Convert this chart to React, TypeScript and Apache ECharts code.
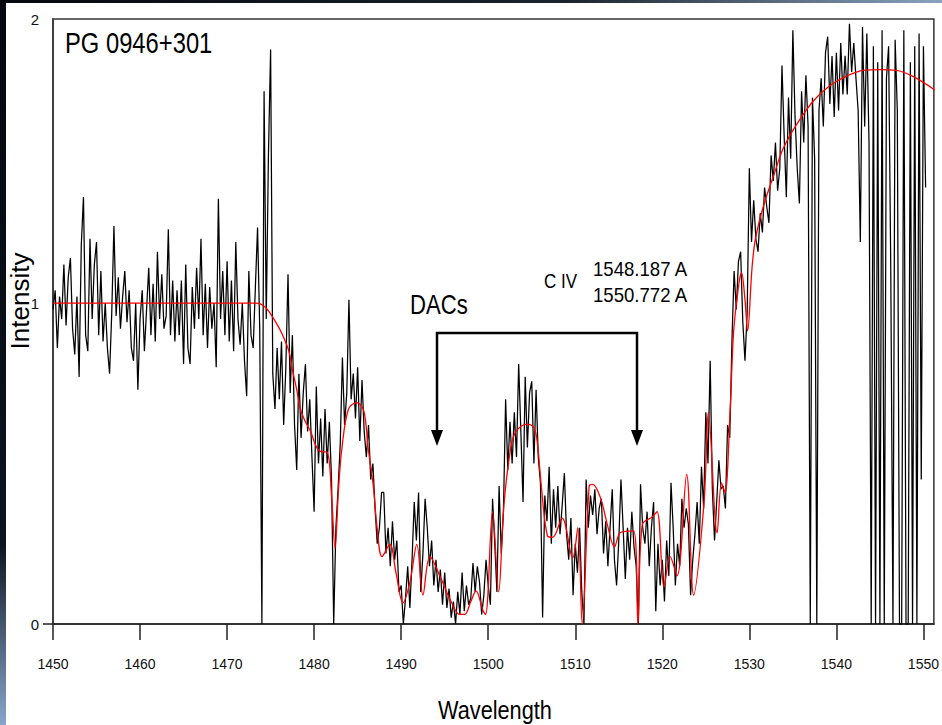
import React, { useEffect, useRef } from "react";
import * as echarts from "echarts";

// ---- data ----
const WL_START = 1450;
const WL_STEP = 0.25;

const flux1450 = [
  0.98, 1.04, 0.86, 1.02, 0.95, 1.12, 0.93, 1.08, 1.14, 0.92, 0.84, 1.02,
  0.77, 1.18, 1.33, 0.9, 0.85, 1.2, 0.95, 1.12, 1.19, 0.9, 1.1, 0.88,
  1.0, 0.86, 0.78, 0.97, 1.24, 0.96, 1.08, 0.92, 1.02, 1.1, 0.94, 1.04,
  0.86, 0.82, 1.0, 0.73,
];
const flux1460 = [
  0.95, 1.04, 0.85, 0.98, 1.11, 0.9, 1.06, 0.88, 1.16, 0.95, 1.09, 0.92,
  0.96, 1.23, 0.9, 1.07, 0.88, 1.04, 0.9, 1.07, 0.81, 1.12, 0.86, 0.81,
  1.05, 0.92, 1.11, 0.95, 1.2, 0.9, 1.06, 0.86, 1.05, 0.92, 1.0, 0.8,
  1.325, 0.95, 1.1, 0.9,
];
const flux1470 = [
  1.13, 0.88, 1.07, 0.85, 1.19, 0.95, 0.87, 1.0, 0.82, 0.71, 1.1, 0.9,
  0.86, 1.05, 1.235, 0.92, 0.0, 1.66, 0.95, 1.46, 1.79, 0.78, 0.67, 0.86,
  0.7, 0.88, 0.62, 0.8, 1.09, 0.72, 0.9, 0.62, 0.48, 0.78, 0.58, 0.72,
  0.81, 0.6, 0.7, 0.52,
];
const flux1480 = [
  0.35, 0.74, 0.5, 0.64, 0.46, 0.67, 0.5, 0.63, 0.45, 0.0, 0.3, 0.42,
  0.56, 0.83, 0.62, 0.72, 1.01, 0.7, 0.78, 0.64, 0.8, 0.57, 0.76, 0.6,
  0.52, 0.62, 0.45, 0.5, 0.36, 0.25, 0.3, 0.41, 0.41, 0.22, 0.3, 0.18,
  0.32, 0.2, 0.26, 0.1,
];
const flux1490 = [
  0.12, 0.0, 0.08, 0.18, 0.05, 0.2, 0.38, 0.26, 0.41, 0.1, 0.22, 0.39,
  0.3, 0.18, 0.26, 0.12, 0.2, 0.1, 0.17, 0.06, 0.16, 0.05, 0.11, 0.02,
  0.07, 0.0, 0.1, 0.03, 0.16, 0.04, 0.12, 0.06, 0.08, 0.19, 0.1, 0.18,
  0.13, 0.03, 0.09, 0.2,
];
const flux1500 = [
  0.12, 0.06, 0.39, 0.25, 0.1, 0.43, 0.22, 0.35, 0.7, 0.48, 0.63, 0.5,
  0.66, 0.52, 0.81, 0.6, 0.38, 0.77, 0.55, 0.72, 0.756, 0.5, 0.73, 0.52,
  0.44, 0.02, 0.4, 0.32, 0.49, 0.25, 0.42, 0.3, 0.43, 0.28, 0.37, 0.47,
  0.28, 0.2, 0.33, 0.09,
];
const flux1510 = [
  0.25, 0.16, 0.3, 0.1, 0.0, 0.45, 0.3, 0.4, 0.34, 0.42, 0.28, 0.36,
  0.39, 0.22, 0.32, 0.18, 0.3, 0.42, 0.2, 0.12, 0.26, 0.45, 0.3, 0.14,
  0.3, 0.2, 0.35, 0.24, 0.18, 0.0, 0.435, 0.3, 0.25, 0.35, 0.18, 0.3,
  0.38, 0.04, 0.25, 0.12,
];
const flux1520 = [
  0.2, 0.07, 0.26, 0.15, 0.44, 0.3, 0.12, 0.25, 0.18, 0.39, 0.3, 0.36,
  0.31, 0.09, 0.2, 0.28, 0.38, 0.25, 0.49, 0.36, 0.66, 0.5, 0.82, 0.42,
  0.26, 0.38, 0.51, 0.42, 0.43, 0.36, 0.62, 0.58, 0.88, 1.1, 0.98, 1.13,
  1.16, 0.94, 0.82, 0.97,
];
const flux1530 = [
  1.42, 1.19, 1.32, 1.2, 1.16, 1.28, 1.22, 1.36, 1.3, 1.25, 1.46, 1.38,
  1.5, 1.35, 1.42, 1.74, 1.52, 1.33, 1.64, 1.45, 1.85, 1.58, 1.42, 1.31,
  1.66, 1.5, 1.71, 1.55, 0.0, 1.64, 1.45, 0.0, 1.6, 1.7, 1.55, 1.78,
  1.83, 1.62, 1.77, 1.58,
];
const flux1540 = [
  1.78, 1.6, 1.81, 1.65, 1.77, 1.65, 1.87, 1.72, 1.81, 1.7, 1.6, 1.19,
  1.86, 1.55, 1.84, 1.5, 0.0, 1.8, 0.0, 1.75, 0.0, 1.85, 0.0, 1.7,
  1.8, 1.1, 0.0, 1.82, 1.6, 0.0, 0.0, 1.85, 0.0, 0.0, 1.75, 0.0,
  1.8, 0.0, 1.84, 0.45, 1.8, 1.36,
];

// smooth fitted profile (red)
const fitWave = [
  1450, 1473.3, 1474.4, 1475.6, 1476.3, 1477.1, 1477.5, 1478.0, 1478.4, 1479.0,
  1479.6, 1480.2, 1480.7, 1481.5, 1482.0, 1482.4, 1482.8, 1483.2, 1483.95, 1484.9,
  1485.7, 1486.2, 1486.8, 1487.2, 1487.8, 1488.7, 1489.4, 1490.2, 1491.0, 1491.8,
  1492.5, 1493.3, 1494.6, 1495.8, 1496.7, 1497.3, 1498.0, 1498.6, 1499.4, 1499.7,
  1500.5, 1501.2, 1501.8, 1502.6, 1503.2, 1504.5, 1505.3, 1505.7, 1506.1, 1506.8,
  1507.4, 1508.5, 1509.7, 1510.3, 1510.8, 1511.6, 1512.0, 1512.9, 1513.7, 1514.5,
  1515.2, 1516.7, 1517.2, 1517.7, 1518.8, 1519.4, 1520.2, 1520.9, 1521.7, 1522.8,
  1523.6, 1524.8, 1525.3, 1526.3, 1526.8, 1527.2, 1527.8, 1528.2, 1528.8, 1529.1,
  1529.5, 1529.8, 1530.3, 1530.7, 1531.6, 1532.8, 1533.9, 1535.4, 1537.3, 1539.2,
  1541.1, 1543.1, 1545.0, 1546.9, 1548.8, 1551.3,
];
const fitFlux = [
  1.0, 1.0, 0.987, 0.94, 0.905, 0.85, 0.793, 0.73, 0.672, 0.63,
  0.6, 0.555, 0.538, 0.535, 0.4, 0.236, 0.42, 0.55, 0.67, 0.69,
  0.665, 0.55, 0.43, 0.31, 0.21, 0.248, 0.16, 0.066, 0.13, 0.248,
  0.09, 0.21, 0.14, 0.066, 0.03, 0.03, 0.07, 0.103, 0.042, 0.03,
  0.35, 0.1, 0.37, 0.55, 0.6, 0.623, 0.61, 0.55, 0.43, 0.275,
  0.27, 0.33, 0.206, 0.3, 0.0, 0.43, 0.435, 0.393, 0.308, 0.24,
  0.285, 0.29, 0.0, 0.31, 0.333, 0.35, 0.115, 0.21, 0.15, 0.466,
  0.09, 0.381, 0.66, 0.284, 0.44, 0.41, 0.67, 0.913, 1.06, 1.095,
  1.01, 0.913, 1.107, 1.2, 1.3, 1.398, 1.482, 1.555, 1.628, 1.676,
  1.706, 1.725, 1.727, 1.725, 1.706, 1.664,
];

const xTicks = [1450, 1460, 1470, 1480, 1490, 1500, 1510, 1520, 1530, 1540, 1550];
const Y_TOP = 1.885;
const yTickValues = [0, 1, Y_TOP];
const yTickLabels = ["0", "1", "2"];

const FONT = "'Liberation Sans', Arial, sans-serif";

export default function App() {
  const ref = useRef<HTMLDivElement>(null);
  useEffect(() => {
    if (!ref.current) return;
    const chart = echarts.init(ref.current, undefined, { renderer: "svg" });
    const flux = [
      ...flux1450, ...flux1460, ...flux1470, ...flux1480, ...flux1490,
      ...flux1500, ...flux1510, ...flux1520, ...flux1530, ...flux1540,
    ];
    const spectrum = flux.map((v, i) => [WL_START + i * WL_STEP, v]);
    const fit = fitWave.map((w, i) => [w, fitFlux[i]]);

    const narrowText = (text: string, x: number, y: number, size: number, sx: number) => ({
      type: "text",
      x,
      y,
      scaleX: sx,
      style: { text, fontSize: size, fontFamily: FONT, fill: "#000", verticalAlign: "middle" },
    });

    chart.setOption({
      animation: false,
      backgroundColor: "#ffffff",
      grid: {
        left: 53,
        top: 19,
        width: 885,
        height: 605,
        show: true,
        borderColor: "#333",
        borderWidth: 1.5,
        backgroundColor: "transparent",
      },
      xAxis: {
        type: "value",
        min: 1450,
        max: 1551.2,
        interval: 10,
        axisLine: { show: true, onZero: false, lineStyle: { color: "#222", width: 1.5 } },
        axisTick: { show: true, inside: false, length: 16, customValues: xTicks, lineStyle: { color: "#222", width: 1.5 } },
        axisLabel: {
          margin: 33,
          fontSize: 14,
          fontFamily: FONT,
          color: "#111",
          customValues: xTicks,
          formatter: (v: number) => String(v),
        },
        splitLine: { show: false },
      },
      yAxis: {
        type: "value",
        min: 0,
        max: Y_TOP,
        interval: 1,
        axisLine: { show: true, lineStyle: { color: "#333", width: 1.5 } },
        axisTick: { show: true, inside: false, length: 10, customValues: [0], lineStyle: { color: "#222", width: 1.5 } },
        axisLabel: {
          margin: 14,
          fontSize: 15,
          fontFamily: FONT,
          color: "#111",
          customValues: yTickValues,
          formatter: (v: number) => {
            const i = yTickValues.findIndex((t) => Math.abs(t - v) < 1e-6);
            return i >= 0 ? yTickLabels[i] : "";
          },
        },
        splitLine: { show: false },
      },
      series: [
        {
          type: "line",
          data: spectrum,
          symbol: "none",
          lineStyle: { color: "#000", width: 1.25 },
          z: 2,
        },
        {
          type: "line",
          data: fit,
          symbol: "none",
          smooth: 0.35,
          lineStyle: { color: "#ff0000", width: 1.3 },
          z: 3,
        },
      ],
      graphic: [
        {
          type: "rect",
          shape: { x: 0, y: 0, width: 6, height: 725 },
          style: {
            fill: new echarts.graphic.LinearGradient(0, 0, 0, 1, [
              { offset: 0, color: "#05080c" },
              { offset: 0.75, color: "#0c1420" },
              { offset: 1, color: "#8aa6cc" },
            ]),
          },
          silent: true,
        },
        {
          type: "rect",
          shape: { x: 0, y: 0, width: 942, height: 3 },
          style: {
            fill: new echarts.graphic.LinearGradient(0, 0, 1, 0, [
              { offset: 0, color: "#05080c" },
              { offset: 0.6, color: "#1a222c" },
              { offset: 1, color: "#8aa3c0" },
            ]),
          },
          silent: true,
        },
        narrowText("PG 0946+301", 65, 43, 29, 0.82),
        narrowText("DACs", 410, 305, 27, 0.82),
        narrowText("C IV", 544, 281, 20, 0.85),
        narrowText("1548.187 A", 593, 269, 20, 0.93),
        narrowText("1550.772 A", 593, 295, 20, 0.93),
        {
          type: "text",
          x: 438,
          y: 710,
          scaleX: 0.82,
          style: { text: "Wavelength", fontSize: 26.5, fontFamily: FONT, fill: "#000", verticalAlign: "middle" },
        },
        {
          type: "text",
          x: 20,
          y: 301,
          rotation: Math.PI / 2,
          style: { text: "Intensity", fontSize: 26, fontFamily: FONT, fill: "#000", align: "center", verticalAlign: "middle" },
        },
        {
          type: "polyline",
          shape: { points: [[437, 432], [437, 333], [637, 333], [637, 432]] },
          style: { stroke: "#000", lineWidth: 2.5, fill: null },
        },
        {
          type: "polygon",
          shape: { points: [[431, 430], [443, 430], [437, 446]] },
          style: { fill: "#000" },
        },
        {
          type: "polygon",
          shape: { points: [[631, 430], [643, 430], [637, 446]] },
          style: { fill: "#000" },
        },
      ],
    });
    return () => chart.dispose();
  }, []);
  return (
    <div
      ref={ref}
      style={{ position: "absolute", left: 0, top: 0, width: 942, height: 725 }}
    />
  );
}
